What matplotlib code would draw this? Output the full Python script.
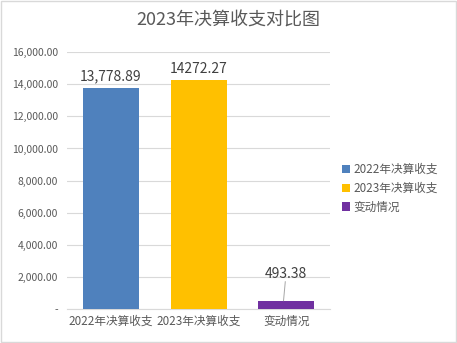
import matplotlib.pyplot as plt
from matplotlib.ticker import FuncFormatter

plt.rcParams['font.family'] = ['Noto Sans CJK SC', 'DejaVu Sans']

categories = ['2022年决算收支', '2023年决算收支', '变动情况']
values = [13778.89, 14272.27, 493.38]
value_labels = ['13,778.89', '14272.27', '493.38']
colors = ['#4F81BD', '#FFC000', '#7030A0']
yticks = [0, 2000, 4000, 6000, 8000, 10000, 12000, 14000, 16000]

text_color = '#595959'

fig = plt.figure(figsize=(4.57, 3.43), dpi=100)
ax = fig.add_axes([0.147, 0.099, 0.575, 0.749])

x = range(len(categories))
bars = ax.bar(x, values, width=0.64, color=colors, label=categories, zorder=3)

ax.set_xlim(-0.5, 2.5)
ax.set_ylim(0, 16000)
ax.set_yticks(yticks)
ax.yaxis.set_major_formatter(FuncFormatter(lambda v, p: '-' if v == 0 else f'{v:,.2f}'))
ax.set_xticks(list(x))
ax.set_xticklabels(categories, fontsize=8.4, color=text_color)
ax.tick_params(axis='y', labelsize=7.5, colors=text_color, length=0, pad=6.5)
ax.tick_params(axis='x', length=0, pad=4)

ax.grid(axis='y', color='#D9D9D9', linewidth=0.8, zorder=0)
for s in ['top', 'right', 'left']:
    ax.spines[s].set_visible(False)
ax.spines['bottom'].set_color('#D9D9D9')

# value labels; the small bar gets a leader line
for i, (v, t) in enumerate(zip(values, value_labels)):
    if v > 2000:
        ax.text(i, v + 250, t, ha='center', va='bottom', fontsize=10, color='#404040')
    else:
        ax.plot([i - 0.03, i - 0.01], [v + 30, 1700], color='#A6A6A6', linewidth=0.7, zorder=4)
        ax.text(i, 1750, t, ha='center', va='bottom', fontsize=10, color='#404040')

fig.suptitle('2023年决算收支对比图', x=0.5, y=0.965, fontsize=13, color=text_color)

ax.legend(handles=bars, labels=categories, loc='center left', bbox_to_anchor=(1.005, 0.47),
          frameon=False, fontsize=8.4, handlelength=0.7, handleheight=0.7,
          handletextpad=0.3, labelspacing=0.5, labelcolor=text_color)

fig.patches.append(plt.Rectangle((0.002, 0.003), 0.995, 0.994, transform=fig.transFigure,
                                 fill=False, edgecolor='#D9D9D9', linewidth=1))

fig.savefig('out.png', dpi=100)
